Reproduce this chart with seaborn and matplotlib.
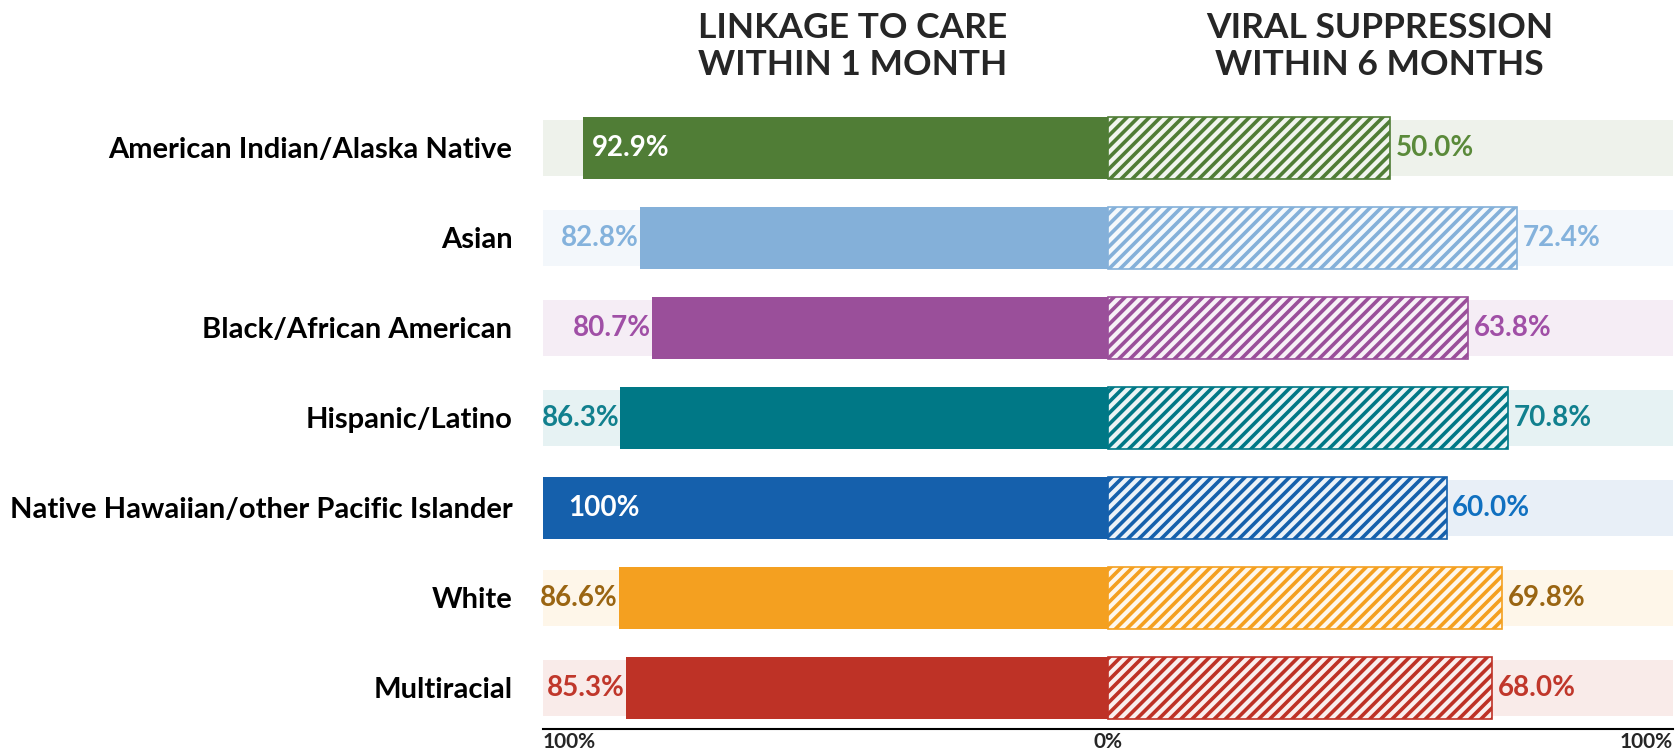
import matplotlib
matplotlib.use("Agg")
import matplotlib.pyplot as plt
import matplotlib.colors as mcolors
import numpy as np
import pandas as pd
import seaborn as sns

groups = [
    "American Indian/Alaska Native",
    "Asian",
    "Black/African American",
    "Hispanic/Latino",
    "Native Hawaiian/other Pacific Islander",
    "White",
    "Multiracial",
]
linkage = [92.9, 82.8, 80.7, 86.3, 100.0, 86.6, 85.3]
suppression = [50.0, 72.4, 63.8, 70.8, 60.0, 69.8, 68.0]
linkage_labels = ["92.9%", "82.8%", "80.7%", "86.3%", "100%", "86.6%", "85.3%"]
suppression_labels = ["50.0%", "72.4%", "63.8%", "70.8%", "60.0%", "69.8%", "68.0%"]
bar_colors = ["#507D36", "#84B0D9", "#9A4F9A", "#007886", "#1560AC", "#F4A020", "#BE3226"]
left_text_colors = ["white", "#84B2DC", "#A04FA6", "#11808E", "white", "#9A6512", "#C0372B"]
right_text_colors = ["#5A8A3A", "#84B2DC", "#A04FA6", "#11808E", "#1070C0", "#9A6512", "#C0372B"]
tick_values = [-100, 0, 100]
tick_labels = ["100%", "0%", "100%"]


def tint(color, amount):
    rgb = np.array(mcolors.to_rgb(color))
    return tuple(1 - (1 - rgb) * amount)


sns.set_style("white")
plt.rcParams["font.family"] = ["Lato", "DejaVu Sans"]
plt.rcParams["hatch.linewidth"] = 2.6

df = pd.DataFrame({"group": groups, "linkage": linkage, "suppression": suppression})
df["left"] = -df["linkage"]
df["bg_left"] = -100.0
df["bg_right"] = 100.0

bg_palette = dict(zip(groups, [tint(c, 0.1) for c in bar_colors]))
palette = dict(zip(groups, bar_colors))

fig = plt.figure(figsize=(16.76, 7.49), dpi=100)
ax = fig.add_axes([0.324, 0.0267, 0.674, 0.8358])

common = dict(y="group", hue="group", orient="h", legend=False, ax=ax,
              order=groups, hue_order=groups, saturation=1)

# light full-width row backgrounds
sns.barplot(data=df, x="bg_left", palette=bg_palette, width=0.63, linewidth=0, **common)
sns.barplot(data=df, x="bg_right", palette=bg_palette, width=0.63, linewidth=0, **common)

# linkage (solid, left)
sns.barplot(data=df, x="left", palette=palette, width=0.69, linewidth=0, **common)

# viral suppression (hatched, right)
n_before = len(ax.patches)
sns.barplot(data=df, x="suppression", palette=palette, width=0.69, linewidth=1.2, **common)
for patch, col in zip(ax.patches[n_before:], bar_colors):
    patch.set_facecolor(tint(col, 0.08))
    patch.set_edgecolor(col)
    patch.set_hatch("///")
    if hasattr(patch, "set_hatch_linewidth"):
        patch.set_hatch_linewidth(2.6)

label_font = dict(fontsize=20, fontweight="bold", va="center")
for i, (lv, rv) in enumerate(zip(linkage, suppression)):
    if left_text_colors[i] == "white":
        x_in = -lv + (4.5 if lv >= 99.5 else 1.5)
        ax.text(x_in, i, linkage_labels[i], color="white", ha="left", **label_font)
    else:
        ax.text(-lv - 0.2, i, linkage_labels[i], color=left_text_colors[i], ha="right", **label_font)
    ax.text(rv + 1.0, i, suppression_labels[i], color=right_text_colors[i], ha="left", **label_font)

ax.set_xlim(-100, 100)
ax.set_ylim(6.456, -0.5)
ax.set_xlabel("")
ax.set_ylabel("")
ax.set_xticks(tick_values)
ax.set_xticklabels(tick_labels, fontsize=15, fontweight="bold")
xt = ax.get_xticklabels()
xt[0].set_ha("left")
xt[-1].set_ha("right")
ax.tick_params(axis="x", length=0, pad=2)
ax.tick_params(axis="y", length=0, pad=22)
for lab in ax.get_yticklabels():
    lab.set_fontsize(21)
    lab.set_fontweight("bold")
    lab.set_color("black")

for side in ["top", "right", "left"]:
    ax.spines[side].set_visible(False)
ax.spines["bottom"].set_color("black")
ax.spines["bottom"].set_linewidth(1.5)

title_font = dict(fontsize=25.5, fontweight="bold", ha="center", va="center", linespacing=1.18)
fig.text(0.509, 0.938, "LINKAGE TO CARE\nWITHIN 1 MONTH", **title_font)
fig.text(0.823, 0.938, "VIRAL SUPPRESSION\nWITHIN 6 MONTHS", **title_font)

fig.savefig("out.png", dpi=100)
